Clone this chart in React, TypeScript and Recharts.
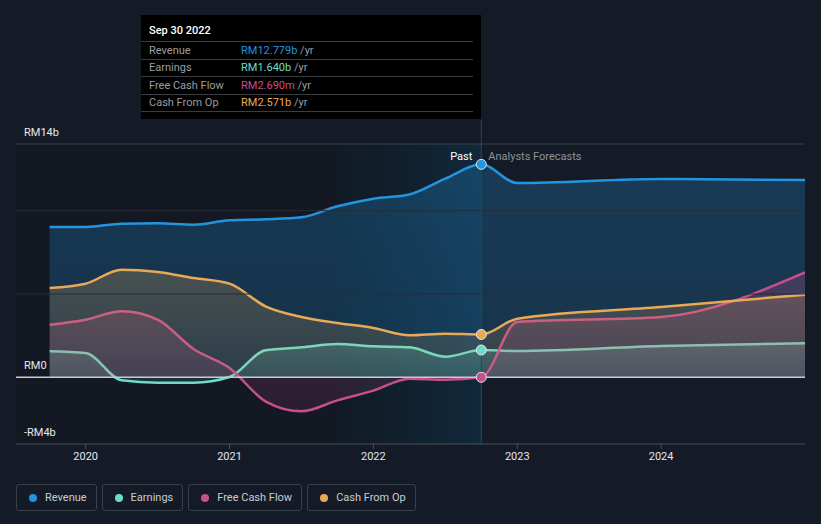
import React from 'react';
import {
  ComposedChart,
  Area,
  XAxis,
  YAxis,
  ReferenceLine,
  ReferenceArea,
  ReferenceDot,
} from 'recharts';

// quarter ends (past) then analyst forecast points
const dates = [
  2019.75, 2020, 2020.25, 2020.5, 2020.75, 2021, 2021.25, 2021.5, 2021.75, 2022, 2022.25, 2022.5, 2022.75,
  2023, 2024, 2025,
];
const revenue = [9.02, 9.02, 9.22, 9.24, 9.16, 9.42, 9.48, 9.6, 10.26, 10.72, 10.97, 11.92, 12.779, 11.66, 11.9, 11.84];
const earnings = [1.56, 1.46, -0.18, -0.32, -0.32, 0.02, 1.62, 1.8, 2.0, 1.86, 1.8, 1.24, 1.64, 1.58, 1.88, 2.04];
const freeCashFlow = [3.16, 3.46, 3.96, 3.46, 1.7, 0.56, -1.44, -2.04, -1.38, -0.8, -0.08, -0.14, 0.00269, 3.32, 3.62, 6.3];
const cashFromOp = [5.36, 5.62, 6.46, 6.32, 5.96, 5.62, 4.26, 3.62, 3.26, 2.96, 2.52, 2.62, 2.571, 3.52, 4.22, 4.96];

const xTicks = [2020, 2021, 2022, 2023, 2024];
const yLabels = [
  { v: 14, text: 'RM14b' },
  { v: 0, text: 'RM0' },
  { v: -4, text: '-RM4b' },
];
const gridValues = [5, 10, 14];

const pastDate = 2022.75;
const highlightStart = 2021.75;
const tooltipTitle = 'Sep 30 2022';

const series = [
  { key: 'revenue', name: 'Revenue', color: '#2394df', values: revenue, shown: 'RM12.779b', top: 0.26, bottom: 0.2 },
  { key: 'earnings', name: 'Earnings', color: '#6ddcc7', values: earnings, shown: 'RM1.640b', top: 0.22, bottom: 0.12 },
  { key: 'fcf', name: 'Free Cash Flow', color: '#c84f8a', values: freeCashFlow, shown: 'RM2.690m', top: 0.24, bottom: 0.12 },
  { key: 'cfo', name: 'Cash From Op', color: '#e8aa56', values: cashFromOp, shown: 'RM2.571b', top: 0.24, bottom: 0.1 },
];

const data = dates.map((d, i) => ({
  date: d,
  revenue: revenue[i],
  earnings: earnings[i],
  fcf: freeCashFlow[i],
  cfo: cashFromOp[i],
}));

const FONT = 'Roboto, "Noto Sans", sans-serif';
const BG = '#151b26';

export default function App() {
  return (
    <div
      style={{
        position: 'absolute',
        left: 0,
        top: 0,
        width: 821,
        height: 524,
        background: BG,
        fontFamily: FONT,
        overflow: 'hidden',
      }}
    >
      <ComposedChart
        width={821}
        height={524}
        data={data}
        margin={{ top: 144, right: 16, bottom: 50, left: 16 }}
        style={{ position: 'absolute', left: 0, top: 0 }}
      >
        <defs>
          <linearGradient id="pastGrad" x1="0" y1="0" x2="1" y2="0">
            <stop offset="0%" stopColor="#05191f" stopOpacity={0.6} />
            <stop offset="100%" stopColor="#0a3e5c" stopOpacity={0.78} />
          </linearGradient>
          {series.map((s) => (
            <linearGradient key={s.key} id={`g-${s.key}`} x1="0" y1="0" x2="0" y2="1">
              <stop offset="0%" stopColor={s.color} stopOpacity={s.top} />
              <stop offset="100%" stopColor={s.color} stopOpacity={s.bottom} />
            </linearGradient>
          ))}
        </defs>
        <XAxis
          dataKey="date"
          type="number"
          domain={[2019.516, 2025]}
          allowDataOverflow
          ticks={xTicks}
          tickFormatter={(v) => String(v)}
          tick={{ fill: '#e4e6ea', fontSize: 11, fontFamily: FONT }}
          axisLine={{ stroke: '#4a505b' }}
          tickLine={{ stroke: '#4a505b' }}
          tickSize={5}
          tickMargin={3}
          height={30}
        />
        <YAxis type="number" domain={[-4, 14]} hide allowDataOverflow />

        <ReferenceArea x1={2019.516} x2={highlightStart} y1={-4} y2={14} fill="#000" fillOpacity={0.08} stroke="none" />
        <ReferenceArea x1={highlightStart} x2={pastDate} y1={-4} y2={14} fill="url(#pastGrad)" stroke="none" />

        {gridValues.map((v) => (
          <ReferenceLine key={v} y={v} stroke={v === 14 ? '#3a404a' : '#262d38'} strokeWidth={1} />
        ))}

        {series.map((s) => (
          <Area
            key={s.key}
            dataKey={s.key}
            name={s.name}
            type="monotone"
            stroke={s.color}
            strokeWidth={2.5}
            fill={`url(#g-${s.key})`}
            fillOpacity={1}
            baseValue={0}
            dot={false}
            activeDot={false}
            isAnimationActive={false}
          />
        ))}

        <ReferenceLine y={0} stroke="#c9cbd0" strokeWidth={1.5} />
        <ReferenceLine
          segment={[
            { x: pastDate, y: -4 },
            { x: pastDate, y: 15.45 },
          ]}
          stroke="#1d4c66"
          strokeWidth={1}
          ifOverflow="visible"
        />
        <ReferenceLine
          x={pastDate}
          stroke="none"
          label={({ viewBox }: any) => (
            <g fontFamily={FONT} fontSize={11}>
              <text x={viewBox.x - 9} y={viewBox.y + 16} textAnchor="end" fill="#ffffff">
                Past
              </text>
              <text x={viewBox.x + 7} y={viewBox.y + 16} textAnchor="start" fill="#8d929b">
                Analysts Forecasts
              </text>
            </g>
          )}
        />
        {yLabels.map((l) => (
          <ReferenceLine
            key={l.text}
            y={l.v}
            stroke="none"
            label={({ viewBox }: any) => (
              <text x={viewBox.x + 8} y={viewBox.y - 8} fill="#e8e9ec" fontSize={11} fontFamily={FONT}>
                {l.text}
              </text>
            )}
          />
        ))}

        {series.map((s) => (
          <ReferenceDot
            key={s.key}
            x={pastDate}
            y={s.values[dates.indexOf(pastDate)]}
            r={5}
            fill={s.color}
            stroke="#e6e6e6"
            strokeWidth={1}
          />
        ))}
      </ComposedChart>

      {/* tooltip box */}
      <div
        style={{
          position: 'absolute',
          left: 141,
          top: 15,
          width: 340,
          height: 104,
          background: '#000',
          fontSize: 11,
          color: '#9a9da3',
        }}
      >
        <div style={{ height: 26, lineHeight: '15px', paddingTop: 8, paddingLeft: 8, boxSizing: 'border-box', color: '#fff', fontWeight: 500 }}>
          {tooltipTitle}
        </div>
        {series.map((s) => (
          <div
            key={s.key}
            style={{
              width: 332,
              height: 17.5,
              borderTop: '1px solid #3a3d42',
              boxSizing: 'border-box',
              display: 'flex',
              alignItems: 'center',
              position: 'relative',
            }}
          >
            <span style={{ position: 'absolute', left: 8 }}>{s.name}</span>
            <span style={{ position: 'absolute', left: 100 }}>
              <span style={{ color: s.color }}>{s.shown}</span> /yr
            </span>
          </div>
        ))}
        <div style={{ width: 332, borderTop: '1px solid #3a3d42' }} />
      </div>

      {/* legend */}
      <div style={{ position: 'absolute', left: 16, top: 484, display: 'flex', gap: 5 }}>
        {series.map((s) => (
          <div
            key={s.key}
            style={{
              height: 27,
              boxSizing: 'border-box',
              border: '1px solid #3a404b',
              borderRadius: 3,
              display: 'flex',
              alignItems: 'center',
              padding: '0 9px 0 12px',
              fontSize: 11,
              color: '#c9ccd2',
            }}
          >
            <span
              style={{
                width: 8,
                height: 8,
                borderRadius: 4,
                background: s.color,
                display: 'inline-block',
                marginRight: 8,
              }}
            />
            {s.name}
          </div>
        ))}
      </div>
    </div>
  );
}
